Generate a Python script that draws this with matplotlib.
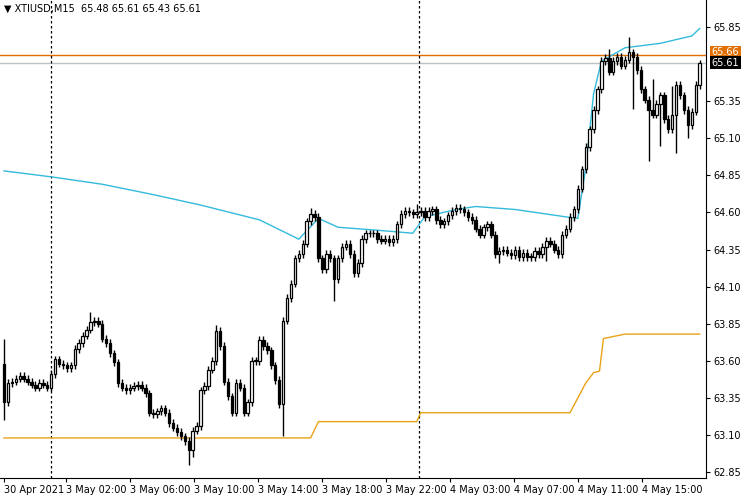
import matplotlib
matplotlib.use("Agg")
import matplotlib.pyplot as plt
import numpy as np

closes = [63.32,63.45,63.46,63.48,63.50,63.48,63.46,63.44,63.42,63.45,63.44,63.42,
 63.51,63.61,63.58,63.57,63.55,63.57,63.68,63.72,63.77,63.81,63.86,63.87,63.85,
 63.75,63.72,63.65,63.59,63.45,63.42,63.40,63.42,63.43,63.44,63.42,
 63.38,63.25,63.24,63.26,63.28,63.25,63.18,63.15,63.12,63.09,
 63.06,63.00,63.13,63.16,
 63.40,63.43,63.54,63.60,63.80,63.70,63.46,63.36,63.25,
 63.45,63.42,63.25,63.32,63.60,63.60,63.74,
 63.70,63.67,63.57,63.47,63.31,63.87,
 64.02,64.12,64.29,64.32,64.39,64.54,64.59,64.57,64.29,64.22,64.32,
 64.29,64.15,64.29,64.37,64.39,64.32,64.19,64.26,64.42,64.46,64.46,64.46,64.42,64.41,64.42,64.40,64.42,64.52,64.59,64.61,64.60,64.59,
 64.60,64.61,64.57,64.61,64.62,64.55,64.52,64.54,64.58,
 64.61,64.63,64.62,64.60,64.57,64.55,64.49,64.45,64.50,64.52,
 64.45,64.32,64.34,64.35,64.33,64.31,64.35,64.30,64.33,64.30,64.30,64.34,64.32,64.37,
 64.41,64.39,64.35,64.32,64.45,64.49,64.57,64.62,
 64.76,64.89,65.04,65.16,65.29,65.43,
 65.62,65.64,65.55,65.62,65.65,65.59,65.63,65.68,65.65,65.56,
 65.43,65.36,65.29,65.26,65.33,65.39,65.23,65.16,65.26,65.46,65.39,65.29,65.19,65.28,65.46,65.61]
first_open = 63.58
base_wick = 0.025
big_highs = {0: 63.75, 22: 63.93, 54: 63.84, 72: 64.05, 78: 64.63, 105: 64.66, 154: 65.70, 159: 65.78, 165: 65.50, 170: 65.45, 177: 65.63}
big_lows = {0: 63.20, 47: 62.90, 48: 62.95, 71: 63.09, 84: 64.00, 160: 65.30, 164: 64.95, 167: 65.05, 171: 65.00, 174: 65.10, 126: 64.26, 138: 64.27}

ma_idx = [0, 12, 25, 38, 50, 65, 75, 80, 85, 95, 104, 107, 115, 120, 130, 143, 146, 148, 150, 152, 158, 167, 175, 177]
ma_val = [64.88, 64.84, 64.79, 64.72, 64.65, 64.55, 64.42, 64.56, 64.50, 64.48, 64.46, 64.57, 64.62, 64.64, 64.62, 64.57, 64.56, 64.90, 65.40, 65.62, 65.71, 65.74, 65.79, 65.84]
ch_idx = [0, 78, 80, 105, 106, 144, 148, 150, 151.5, 152.5, 158, 177]
ch_val = [63.08, 63.08, 63.19, 63.19, 63.25, 63.25, 63.45, 63.52, 63.53, 63.75, 63.78, 63.78]

ytick_vals = [65.85, 65.35, 65.10, 64.85, 64.60, 64.35, 64.10, 63.85, 63.60, 63.35, 63.10, 62.85]
xtick_idx = [0, 15.8, 32.1, 48.3, 64.6, 80.9, 97.2, 113.5, 129.8, 146.1, 162.3]
xtick_lab = ["30 Apr 2021", "3 May 02:00", "3 May 06:00", "3 May 10:00", "3 May 14:00", "3 May 18:00",
             "3 May 22:00", "4 May 03:00", "4 May 07:00", "4 May 11:00", "4 May 15:00"]
sep_idx = [12, 105.6]
ask_line, bid_line = 65.66, 65.61

fig = plt.figure(figsize=(7.5, 5), dpi=100)
ax = fig.add_axes([0, 22/500, 706/750, 478/500])
n = len(closes)
opens = [first_open] + closes[:-1]
for i in range(n):
    o, c = opens[i], closes[i]
    hi = big_highs.get(i, max(o, c) + base_wick)
    lo = big_lows.get(i, min(o, c) - base_wick)
    ax.vlines(i, lo, hi, color="black", lw=1, zorder=3)
    bot, top = min(o, c), max(o, c)
    h = max(top - bot, 0.004)
    ax.bar(i, h, bottom=bot, width=0.62, color="black" if c < o else "white",
           edgecolor="black", linewidth=0.9, zorder=4)

ax.plot(ma_idx, ma_val, color="#33bbdd", lw=1, zorder=2)
ax.plot(ch_idx, ch_val, color="#e8a317", lw=1, zorder=2)
ax.axhline(ask_line, color="#e07000", lw=1, zorder=1)
ax.axhline(bid_line, color="#c0c0c0", lw=1, zorder=1)
for s in sep_idx:
    ax.axvline(s, color="black", lw=0.9, ls=(0, (2, 2)), zorder=1)

ax.set_xlim(-1.02, 178.6)
ax.set_ylim(62.81, 66.032)
ax.yaxis.tick_right()
ax.set_yticks(ytick_vals)
ax.set_yticklabels([f"{v:.2f}" for v in ytick_vals], fontsize=7)
ax.set_xticks(xtick_idx)
ax.set_xticklabels(xtick_lab, fontsize=7, ha="left")
ax.tick_params(length=3, width=0.8, pad=2)
for sp in ["top", "left"]:
    ax.spines[sp].set_visible(False)

ax.text(1.008, ask_line + 0.02, "65.66", transform=ax.get_yaxis_transform(), fontsize=7, va="center",
        color="white", bbox=dict(boxstyle="square,pad=0.15", fc="#e07000", ec="none"))
ax.text(1.008, bid_line, "65.61", transform=ax.get_yaxis_transform(), fontsize=7, va="center",
        color="white", bbox=dict(boxstyle="square,pad=0.15", fc="black", ec="none"))
ax.text(0.005, 0.993, "▼ XTIUSD,M15  65.48 65.61 65.43 65.61", transform=ax.transAxes,
        fontsize=7, va="top", ha="left")
fig.savefig("out.png", dpi=100)
